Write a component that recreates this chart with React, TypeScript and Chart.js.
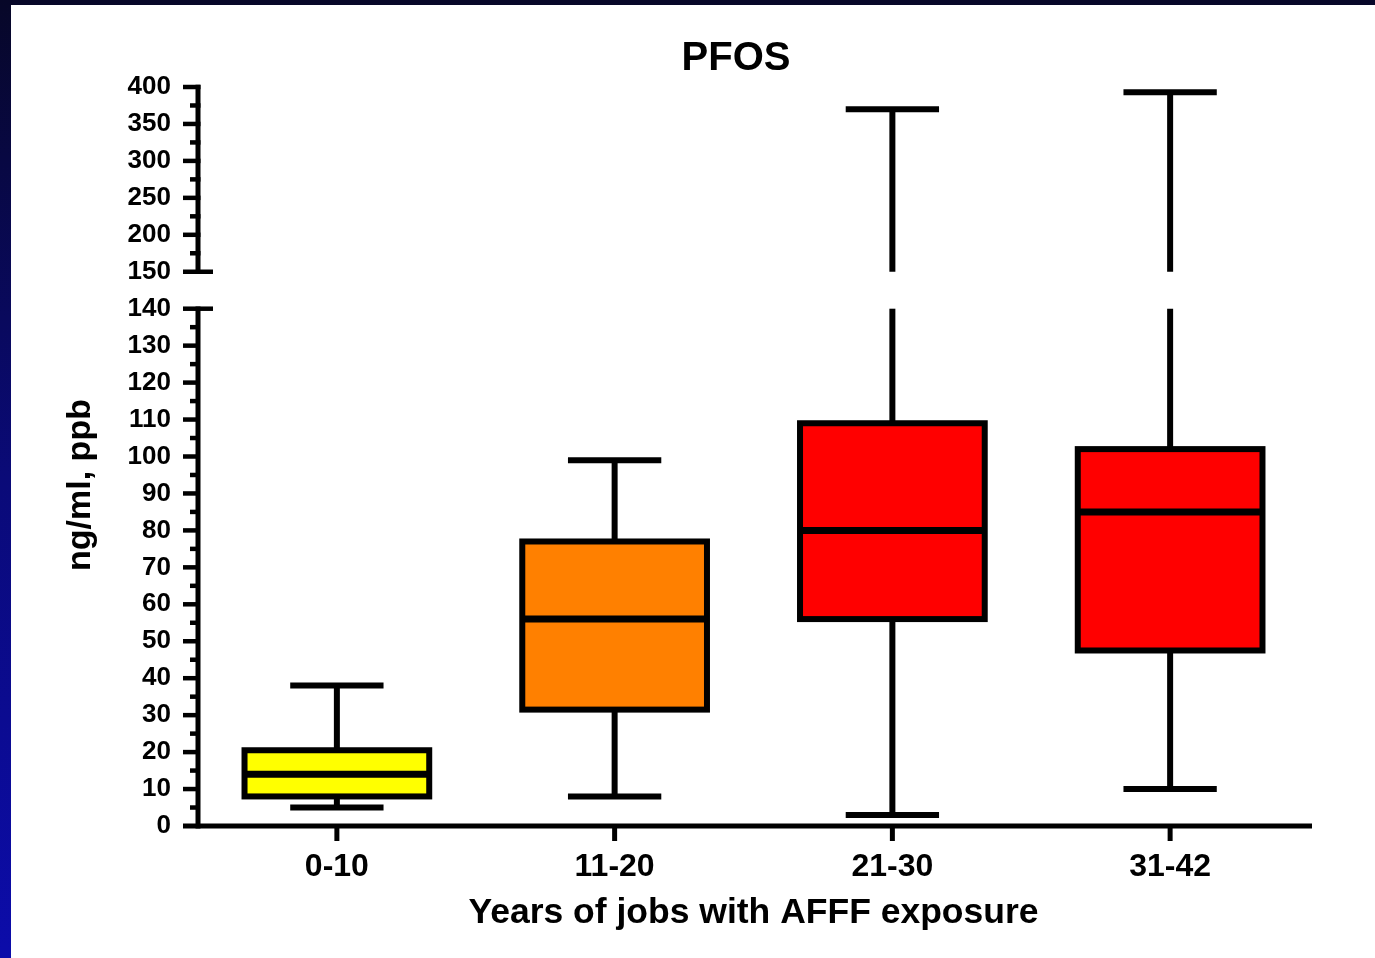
import React, { useEffect, useRef } from 'react';
import { Chart, registerables } from 'chart.js';

Chart.register(...registerables);

// ---------------- data ----------------
const categories = ['0-10', '11-20', '21-30', '31-42'];
const whiskerLow = [5, 8, 3, 10];
const quartile1 = [8, 31.5, 56, 47.5];
const medians = [14, 56, 80, 85];
const quartile3 = [20.5, 77, 109, 102];
const whiskerHigh = [38, 99, 370, 393];
const boxColors = ['#ffff00', '#ff8000', '#ff0000', '#ff0000'];

const lowerTicks = [0, 10, 20, 30, 40, 50, 60, 70, 80, 90, 100, 110, 120, 130, 140];
const upperTicks = [150, 200, 250, 300, 350, 400];

const chartTitle = 'PFOS';
const xTitle = 'Years of jobs with AFFF exposure';
const yTitle = 'ng/ml, ppb';

// broken axis: lower segment 0-140 (step 10), upper segment 150-400 (step 50)
const LOWER_MAX = lowerTicks[lowerTicks.length - 1];
const UPPER_MIN = upperTicks[0];
const LOWER_STEP = 10;
const UPPER_STEP = 50;
function toAxis(v: number): number {
  if (v <= LOWER_MAX) return v / LOWER_STEP;
  return lowerTicks.length + (v - UPPER_MIN) / UPPER_STEP;
}
function axisLabel(u: number): string {
  const i = Math.round(u);
  if (Math.abs(u - i) > 1e-6) return '';
  if (i < lowerTicks.length) return String(lowerTicks[i]);
  const j = i - lowerTicks.length;
  return j < upperTicks.length ? String(upperTicks[j]) : '';
}

const FONT = '"Liberation Sans", Arial, Helvetica, sans-serif';

const boxPlugin = {
  id: 'boxplotBroken',
  beforeDatasetsDraw(chart: any) {
    const { ctx, scales } = chart;
    const x = scales.x;
    const y = scales.y;
    const band = x.getPixelForValue(1) - x.getPixelForValue(0);
    const capHalf = band * 0.168;
    ctx.save();
    ctx.strokeStyle = '#000';
    ctx.lineWidth = 6;
    ctx.lineCap = 'butt';
    const line = (x1: number, y1: number, x2: number, y2: number) => {
      ctx.beginPath();
      ctx.moveTo(x1, y1);
      ctx.lineTo(x2, y2);
      ctx.stroke();
    };
    categories.forEach((_, i) => {
      const cx = x.getPixelForValue(i);
      const yq1 = y.getPixelForValue(toAxis(quartile1[i]));
      const yq3 = y.getPixelForValue(toAxis(quartile3[i]));
      const yLo = y.getPixelForValue(toAxis(whiskerLow[i]));
      const yHi = y.getPixelForValue(toAxis(whiskerHigh[i]));
      line(cx, yq1, cx, yLo);
      line(cx - capHalf, yLo, cx + capHalf, yLo);
      if (whiskerHigh[i] > LOWER_MAX) {
        line(cx, yq3, cx, y.getPixelForValue(toAxis(LOWER_MAX)));
        line(cx, y.getPixelForValue(toAxis(UPPER_MIN)), cx, yHi);
      } else {
        line(cx, yq3, cx, yHi);
      }
      line(cx - capHalf, yHi, cx + capHalf, yHi);
    });
    ctx.restore();
  },
  afterDatasetsDraw(chart: any) {
    const { ctx, scales } = chart;
    const y = scales.y;
    const meta = chart.getDatasetMeta(0);
    ctx.save();
    ctx.strokeStyle = '#000';
    categories.forEach((_, i) => {
      const el = meta.data[i];
      const { x: cx, width } = el.getProps(['x', 'width'], true);
      const yq1 = y.getPixelForValue(toAxis(quartile1[i]));
      const yq3 = y.getPixelForValue(toAxis(quartile3[i]));
      const ym = y.getPixelForValue(toAxis(medians[i]));
      ctx.lineWidth = 6;
      ctx.strokeRect(cx - width / 2, yq3, width, yq1 - yq3);
      ctx.lineWidth = 7;
      ctx.beginPath();
      ctx.moveTo(cx - width / 2, ym);
      ctx.lineTo(cx + width / 2, ym);
      ctx.stroke();
    });
    ctx.restore();
  },
  afterDraw(chart: any) {
    const { ctx, scales, chartArea } = chart;
    const x = scales.x;
    const y = scales.y;
    const left = chartArea.left;
    const y0 = y.getPixelForValue(0);
    ctx.save();
    ctx.strokeStyle = '#000';
    ctx.fillStyle = '#000';
    ctx.lineCap = 'butt';
    const line = (x1: number, y1: number, x2: number, y2: number, w: number) => {
      ctx.lineWidth = w;
      ctx.beginPath();
      ctx.moveTo(x1, y1);
      ctx.lineTo(x2, y2);
      ctx.stroke();
    };
    const major = 15;
    const minor = 8;
    const tw = 4.5;
    // x axis
    line(left - major, y0, chartArea.right + 3, y0, 5);
    categories.forEach((_, i) => {
      const cx = x.getPixelForValue(i);
      line(cx, y0, cx, y0 + 15, 5);
    });
    // lower y segment
    const yLowTop = y.getPixelForValue(toAxis(LOWER_MAX));
    line(left, y0 + 2.5, left, yLowTop - tw / 2, 5);
    for (let v = 0; v <= LOWER_MAX; v += LOWER_STEP / 2) {
      const py = y.getPixelForValue(toAxis(v));
      const isMajor = v % LOWER_STEP === 0;
      if (v === LOWER_MAX) line(left - major, py, left + major, py, tw);
      else if (v !== 0) line(left - (isMajor ? major : minor), py, left, py, tw);
    }
    // upper y segment
    const yUpBot = y.getPixelForValue(toAxis(UPPER_MIN));
    const yUpTop = y.getPixelForValue(toAxis(upperTicks[upperTicks.length - 1]));
    line(left, yUpBot + tw / 2, left, yUpTop - tw / 2, 5);
    const upMax = upperTicks[upperTicks.length - 1];
    for (let v = UPPER_MIN; v <= upMax; v += UPPER_STEP / 2) {
      const py = y.getPixelForValue(toAxis(v));
      const isMajor = (v - UPPER_MIN) % UPPER_STEP === 0;
      if (v === UPPER_MIN) line(left - major, py, left + major, py, tw);
      else line(left - (isMajor ? major : minor), py, left + 2.5, py, tw);
    }
    // chart title
    ctx.font = `bold 40px ${FONT}`;
    ctx.textAlign = 'center';
    ctx.textBaseline = 'alphabetic';
    ctx.fillText(chartTitle, 736, 70);
    // y title
    ctx.save();
    ctx.translate(81, 485);
    ctx.rotate(-Math.PI / 2);
    ctx.font = `bold 34px ${FONT}`;
    ctx.textAlign = 'center';
    ctx.textBaseline = 'middle';
    ctx.fillText(yTitle, 0, 0);
    ctx.restore();
    ctx.restore();
  },
};

export default function App() {
  const canvasRef = useRef<HTMLCanvasElement | null>(null);

  useEffect(() => {
    if (!canvasRef.current) return;
    const chart = new Chart(canvasRef.current, {
      type: 'bar',
      data: {
        labels: categories,
        datasets: [
          {
            label: 'IQR',
            data: categories.map((_, i) => [toAxis(quartile1[i]), toAxis(quartile3[i])]) as any,
            backgroundColor: boxColors,
            borderWidth: 0,
            barPercentage: 0.665,
            categoryPercentage: 1,
          },
        ],
      },
      options: {
        responsive: false,
        animation: false,
        layout: { padding: { top: 87, right: 66, left: 0, bottom: 0 } },
        plugins: {
          legend: { display: false },
          tooltip: { enabled: false },
          title: { display: false },
        },
        scales: {
          x: {
            type: 'category',
            offset: true,
            grid: { display: false, drawTicks: false },
            border: { display: false },
            ticks: {
              color: '#000',
              padding: 22,
              font: { family: FONT, size: 32, weight: 'bold' },
            },
            title: {
              display: true,
              text: xTitle,
              color: '#000',
              font: { family: FONT, size: 35.5, weight: 'bold' },
              padding: { top: 0, bottom: 23 },
            },
            afterFit: (scale: any) => {
              scale.height = 132;
            },
          },
          y: {
            type: 'linear',
            min: 0,
            max: toAxis(upperTicks[upperTicks.length - 1]),
            grid: { display: false, drawTicks: false },
            border: { display: false },
            ticks: {
              stepSize: 1,
              autoSkip: false,
              color: '#000',
              padding: 27,
              font: { family: FONT, size: 26, weight: 'bold' },
              callback: (value: any) => axisLabel(Number(value)),
            },
            afterFit: (scale: any) => {
              scale.width = 198;
            },
          },
        },
      },
      plugins: [boxPlugin],
    });
    return () => chart.destroy();
  }, []);

  return (
    <div
      style={{
        position: 'fixed',
        left: 0,
        top: 0,
        width: 1375,
        height: 958,
        background: 'linear-gradient(to bottom, #070728 0%, #0a0a78 50%, #0c0caa 100%)',
        overflow: 'hidden',
      }}
    >
      <div
        style={{
          position: 'absolute',
          left: 11,
          top: 5,
          width: 1364,
          height: 953,
          background: '#ffffff',
        }}
      />
      <canvas
        ref={canvasRef}
        width={1375}
        height={958}
        style={{ position: 'absolute', left: 0, top: 0, width: 1375, height: 958 }}
      />
    </div>
  );
}
